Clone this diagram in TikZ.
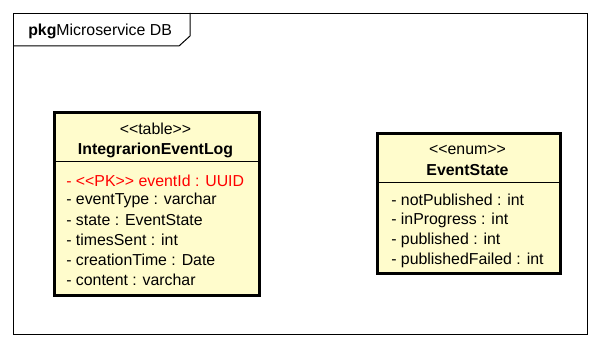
\documentclass[tikz,border=0pt]{standalone}
\usepackage{fontspec}
\setmainfont{Liberation Sans}
\newcommand{\stl}{{<}{<}}
\newcommand{\str}{{>}{>}}
\begin{document}
\begin{tikzpicture}[x=0.75pt,y=-0.75pt,
  frameline/.style={draw=black,line width=0.75pt},
  classbox/.style={draw=black,line width=2.25pt,fill=yellow!20,inner sep=0pt,anchor=north west},
  stereo/.style={font=\fontsize{11.9}{14}\selectfont,inner sep=0pt},
  cname/.style={font=\fontsize{11.9}{14}\selectfont\bfseries,inner sep=0pt},
  attr/.style={font=\fontsize{11.9}{14}\selectfont,inner sep=0pt,anchor=west},
  pk/.style={attr,text=red}]
\useasboundingbox (0,0) rectangle (601,348);
% package frame with its name tab
\node[frameline,draw,minimum width=574*0.75pt,minimum height=321*0.75pt,anchor=north west,inner sep=0pt] (pkgframe) at (13,13) {};
\coordinate (tabA) at (190,13);
\coordinate (tabB) at (190,36);
\coordinate (tabC) at (179,46);
\coordinate (tabD) at (13,46);
\draw[frameline] (tabA) -- (tabB) -- (tabC) -- (tabD);
\node[anchor=base west,inner sep=0pt,font=\fontsize{11.9}{14}\selectfont] (pkgname) at (28,36) {\textbf{pkg}Microservice DB};
% table class
\node[classbox,minimum width=205*0.75pt,minimum height=183*0.75pt] (tbl) at (53,111) {};
\draw[line width=0.75pt] (53,162) -- (258,162);
\node[stereo] (tblst) at (155.5,129) {\stl table\str};
\node[cname] (tblname) at (155.5,150) {IntegrarionEventLog};
\node[pk] (a1) at (66,181) {- \stl PK\str{} eventId : UUID};
\node[attr] (a2) at (66,200) {- eventType : varchar};
\node[attr] (a3) at (66,220) {- state : EventState};
\node[attr] (a4) at (66,240) {- timesSent : int};
\node[attr] (a5) at (66,260) {- creationTime : Date};
\node[attr] (a6) at (66,280) {- content : varchar};
% enum class
\node[classbox,minimum width=183*0.75pt,minimum height=140*0.75pt] (enm) at (376,132) {};
\draw[line width=0.75pt] (376,183) -- (559,183);
\node[stereo] (enst) at (467.5,150) {\stl enum\str};
\node[cname] (enname) at (467.5,170) {EventState};
\node[attr] (e1) at (391,200) {- notPublished : int};
\node[attr] (e2) at (391,220) {- inProgress : int};
\node[attr] (e3) at (391,240) {- published : int};
\node[attr] (e4) at (391,260) {- publishedFailed : int};
\end{tikzpicture}
\end{document}
